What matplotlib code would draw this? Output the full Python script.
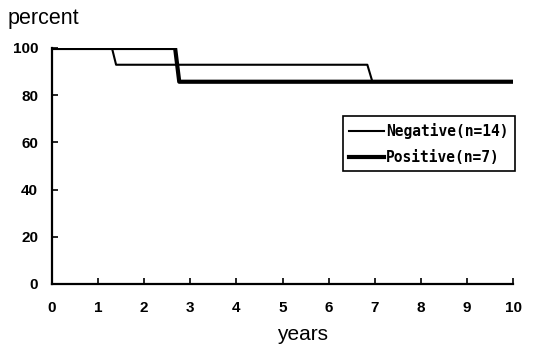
import matplotlib
matplotlib.use("Agg")
import matplotlib.pyplot as plt

# 생존 곡선 데이터
neg_years = [0, 1.3, 1.39, 6.84, 6.95, 10]
neg_pct = [100, 100, 92.9, 92.9, 85.7, 85.7]
pos_years = [0, 2.67, 2.76, 10]
pos_pct = [100, 100, 85.7, 85.7]

x_ticks = list(range(0, 11))
y_ticks = [0, 20, 40, 60, 80, 100]

fig = plt.figure(figsize=(5.34, 3.47), dpi=100)
ax = fig.add_axes([0.0974, 0.1816, 0.8633, 0.6801])

ax.plot(neg_years, neg_pct, color='black', lw=1.5, label="Negative(n=14)")
ax.plot(pos_years, pos_pct, color='black', lw=3.0, label="Positive(n=7)")

ax.set_xlim(0, 10)
ax.set_ylim(0, 100)
ax.set_xticks(x_ticks)
ax.set_yticks(y_ticks)
ax.spines['top'].set_visible(False)
ax.spines['right'].set_visible(False)
for s in ['left', 'bottom']:
    ax.spines[s].set_linewidth(1.6)
ax.tick_params(direction='in', length=4, width=1.2)
ax.tick_params(axis='x', pad=12)
ax.tick_params(axis='y', pad=10)
for lab in ax.get_xticklabels() + ax.get_yticklabels():
    lab.set_fontweight('bold')
    lab.set_fontsize(11)
    lab.set_family('Liberation Sans')

fig.text(0.014, 0.948, "percent", fontsize=15.5, family='Liberation Sans', va='center')
fig.text(0.566, 0.035, "years", fontsize=15, family='Liberation Sans', ha='center', va='center')

leg = ax.legend(loc='upper left', bbox_to_anchor=(0.631, 0.71), frameon=True, fancybox=False,
                edgecolor='black', framealpha=1, handlelength=2.4, handletextpad=0.1,
                borderpad=0.45, labelspacing=0.75, borderaxespad=0,
                prop={'family': 'DejaVu Sans Mono', 'size': 10.5, 'weight': 'bold'})
leg.get_frame().set_linewidth(1.2)

plt.savefig("out.png", dpi=100)
